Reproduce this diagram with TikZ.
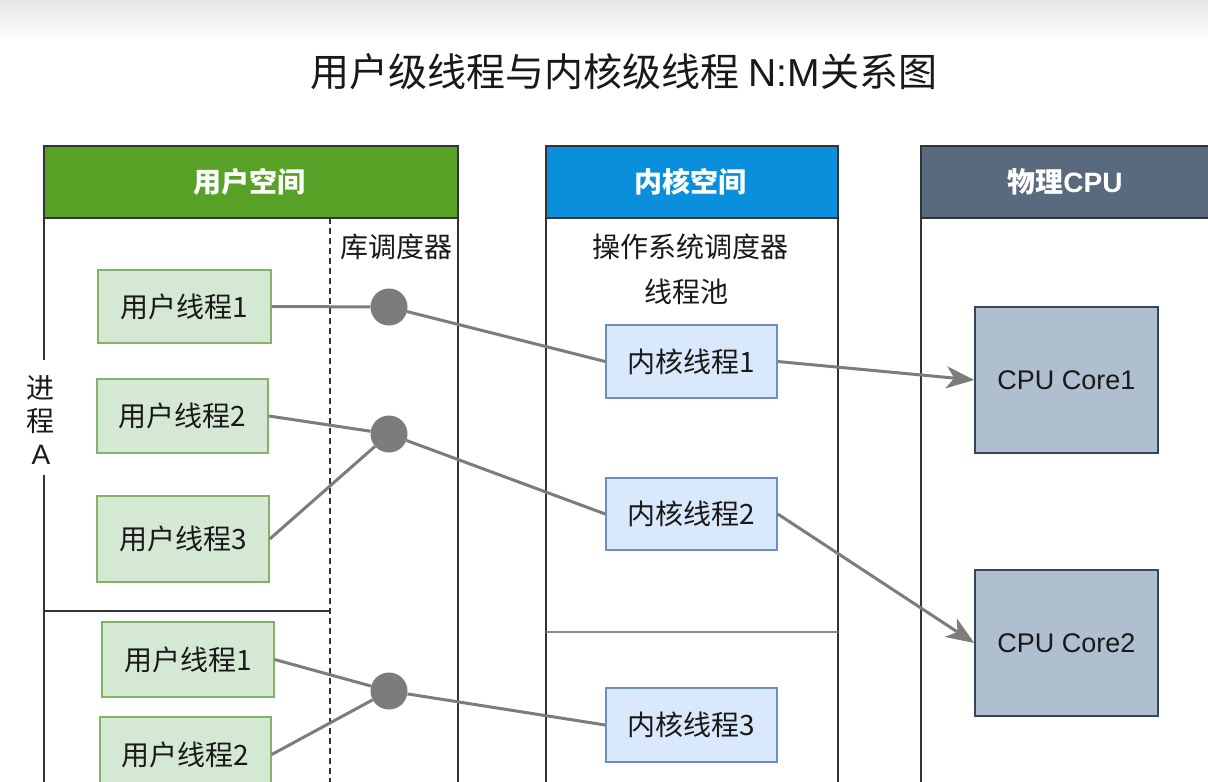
\documentclass[tikz,border=0pt]{standalone}
\usepackage{fontspec}
\setmainfont{Noto Sans CJK SC}
\newfontfamily\latf{Liberation Sans}
\usetikzlibrary{arrows.meta}
\definecolor{hgreen}{HTML}{58A127}
\definecolor{hblue}{HTML}{0A8FDD}
\definecolor{hdark}{HTML}{5A6A7E}
\definecolor{gfill}{HTML}{D5E8D4}
\definecolor{gline}{HTML}{82B366}
\definecolor{bfill}{HTML}{DAE8FC}
\definecolor{bline}{HTML}{6C8EBF}
\definecolor{cfill}{HTML}{B0BFD0}
\definecolor{cline}{HTML}{34475A}
\definecolor{conn}{HTML}{7C7C7C}
\definecolor{frame}{HTML}{333333}
\tikzset{
  lbl/.style={font=\fontsize{28}{33}\selectfont, text=black!90},
  hdrtext/.style={font=\fontsize{28}{33}\selectfont\bfseries, text=white},
  ubox/.style={lbl, draw=gline, fill=gfill, line width=1.5pt, inner sep=0pt},
  kbox/.style={lbl, draw=bline, fill=bfill, line width=1.5pt, inner sep=0pt, minimum width=171pt},
  core/.style={lbl, draw=cline, fill=cfill, line width=1.5pt, inner sep=0pt, minimum width=183pt, minimum height=146pt},
  dot/.style={circle, fill=conn, inner sep=0pt, minimum size=37pt},
  wire/.style={draw=conn, line width=3pt},
  arr/.style={wire, -{Stealth[length=28pt, width=22pt, inset=8pt]}},
  pline/.style={draw=frame, line width=2pt},
}
\begin{document}
\begin{tikzpicture}[x=1pt, y=-1pt]
\useasboundingbox (0,0) rectangle (1208,782);
\clip (0,0) rectangle (1208,782);
\fill[white] (0,0) rectangle (1208,782);
\shade[top color=black!10, bottom color=white] (0,0) rectangle (1208,40);

% title
\node[font=\fontsize{39}{45}\selectfont, text=black!90] (title) at (624,72) {用户级线程与内核级线程 {\latf N:M}关系图};

% ---- user space panel
\fill[hgreen] (44,146) rectangle (458,218);
\draw[pline] (44,218) -- (44,146) -- (458,146) -- (458,782);
\draw[pline] (44,218) -- (458,218);
\draw[pline] (44,218) -- (44,360);
\draw[pline] (44,475) -- (44,782);
\draw[pline] (44,611) -- (330,611);
\draw[draw=frame, line width=2pt, dash pattern=on 6pt off 4pt] (330,218) -- (330,782);
\node[hdrtext] (hu) at (249,182) {用户空间};
\node[lbl] (lib) at (396,247) {库调度器};
\node[lbl, align=center, font=\fontsize{28}{33}\selectfont] (proc) at (41,420) {进\\程\\{\latf A}};

% ---- kernel space panel
\fill[hblue] (546,146) rectangle (838,218);
\draw[pline] (546,782) -- (546,146) -- (838,146) -- (838,782);
\draw[pline] (546,218) -- (838,218);
\draw[draw=black!45, line width=2pt] (546,632) -- (838,632);
\node[hdrtext] (hk) at (690,182) {内核空间};
\node[lbl] (os) at (690,247) {操作系统调度器};
\node[lbl] (pool) at (686,292) {线程池};

% ---- physical cpu panel
\fill[hdark] (921,146) rectangle (1215,218);
\draw[pline] (921,782) -- (921,146) -- (1215,146);
\draw[pline] (921,218) -- (1215,218);
\node[hdrtext] (hc) at (1065,182) {物理{\latf\bfseries CPU}};

% ---- user threads
\node[ubox, minimum width=173pt, minimum height=73pt] (u1) at (184.5,306.5) {用户线程1};
\node[ubox, minimum width=171pt, minimum height=74pt] (u2) at (182.5,416) {用户线程2};
\node[ubox, minimum width=172pt, minimum height=86pt] (u3) at (183,539) {用户线程3};
\node[ubox, minimum width=172pt, minimum height=75pt] (u4) at (188,659.5) {用户线程1};
\node[ubox, minimum width=171pt, minimum height=75pt] (u5) at (185.5,754.5) {用户线程2};

% ---- kernel threads
\node[kbox, minimum height=73pt] (k1) at (691.5,361.5) {内核线程1};
\node[kbox, minimum height=72pt] (k2) at (691.5,514) {内核线程2};
\node[kbox, minimum height=74pt] (k3) at (691.5,725) {内核线程3};

% ---- cores
\node[core, font=\latf\fontsize{27}{32}\selectfont] (c1) at (1066.5,380) {CPU Core1};
\node[core, font=\latf\fontsize{27}{32}\selectfont] (c2) at (1066.5,643) {CPU Core2};

% ---- scheduler dots
\node[dot] (d1) at (389,307) {};
\node[dot] (d2) at (389,434) {};
\node[dot] (d3) at (389,691) {};

% ---- connectors
\draw[wire] (u1.east) -- (d1);
\draw[wire] (d1) -- (k1.west);
\draw[wire] (u2.east) -- (d2);
\draw[wire] (u3.east) -- (d2);
\draw[wire] (d2) -- (k2.west);
\draw[wire] (u4.east) -- (d3);
\draw[wire] (u5.east) -- (d3);
\draw[wire] (d3) -- (k3.west);
\draw[arr] (k1.east) -- (c1.west);
\draw[arr] (k2.east) -- (c2.west);
\end{tikzpicture}
\end{document}
